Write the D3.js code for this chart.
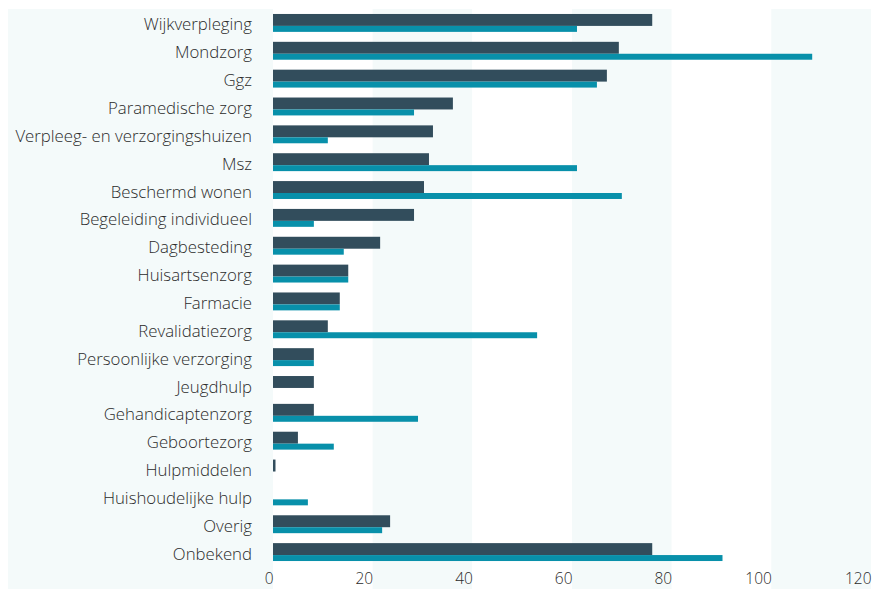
<!DOCTYPE html>
<html>
<head>
<meta charset="utf-8">
<script src="https://cdn.jsdelivr.net/npm/d3@7"></script>
<style>
  html, body { margin: 0; padding: 0; background: #ffffff; }
  svg { display: block; }
  text { font-family: "Open Sans", "Noto Sans", sans-serif; }
</style>
</head>
<body>
<svg id="chart" width="872" height="589"></svg>
<script>
const categories = [
  "Wijkverpleging", "Mondzorg", "Ggz", "Paramedische zorg",
  "Verpleeg- en verzorgingshuizen", "Msz", "Beschermd wonen",
  "Begeleiding individueel", "Dagbesteding", "Huisartsenzorg", "Farmacie",
  "Revalidatiezorg", "Persoonlijke verzorging", "Jeugdhulp",
  "Gehandicaptenzorg", "Geboortezorg", "Hulpmiddelen",
  "Huishoudelijke hulp", "Overig", "Onbekend"
];
const seriesA = [76.1, 69.4, 67.0, 36.1, 32.1, 31.3, 30.3, 28.3, 21.5, 15.1, 13.4, 11.0, 8.2, 8.2, 8.2, 5.0, 0.5, 0, 23.5, 76.1];
const seriesB = [61.0, 108.2, 65.0, 28.3, 11.0, 61.0, 70.0, 8.2, 14.2, 15.1, 13.4, 53.0, 8.2, 0, 29.1, 12.2, 0, 7.0, 21.9, 90.2];
const xTicks = [0, 20, 40, 60, 80, 100, 120];

(function () {
const svg = d3.select("#chart");
const mLeft = 273, mRight = 871, mTop = 9, mBottom = 566, bgLeft = 8, H = 589;
const colorA = "#324d5c", colorB = "#0890aa", bgLight = "#f4fafa";

const x = d3.scaleLinear().domain([0, 120]).range([mLeft, mRight]);
const y = d3.scaleBand().domain(categories).range([mTop, mBottom])
  .paddingInner(10 / 28).paddingOuter(5 / 28);

// background
svg.append("rect").attr("x", bgLeft).attr("y", mTop).attr("width", mLeft - bgLeft)
  .attr("height", H - mTop).attr("fill", bgLight);
const bands = d3.range(0, xTicks.length - 1);
svg.append("g").selectAll("rect").data(bands).join("rect")
  .attr("x", i => x(xTicks[i]))
  .attr("y", mTop)
  .attr("width", i => x(xTicks[i + 1]) - x(xTicks[i]))
  .attr("height", H - mTop)
  .attr("fill", i => i % 2 === 0 ? "#ffffff" : bgLight);

const bw = y.bandwidth();
// series A bars (dark)
svg.append("g").selectAll("rect").data(categories).join("rect")
  .attr("x", x(0))
  .attr("y", c => y(c))
  .attr("width", (c, i) => x(seriesA[i]) - x(0))
  .attr("height", bw * 2 / 3)
  .attr("fill", colorA);
// series B bars (teal)
svg.append("g").selectAll("rect").data(categories).join("rect")
  .attr("x", x(0))
  .attr("y", c => y(c) + bw * 2 / 3)
  .attr("width", (c, i) => x(seriesB[i]) - x(0))
  .attr("height", bw / 3)
  .attr("fill", colorB);

// y axis labels
const yAxis = d3.axisLeft(y).tickSize(0).tickPadding(21);
const gy = svg.append("g").attr("transform", `translate(${mLeft},0)`).call(yAxis);
gy.select(".domain").remove();
gy.selectAll("text").attr("font-size", 16.8).attr("font-weight", 300).attr("fill", "#2b2b2b")
  .attr("dy", "0.45em").attr("font-family", "'Open Sans', 'Noto Sans', sans-serif");

// x axis labels
const xAxis = d3.axisBottom(x).tickValues(xTicks).tickSize(0).tickPadding(0);
const gx = svg.append("g").attr("transform", `translate(0,${mBottom + 5})`).call(xAxis);
gx.select(".domain").remove();
gx.selectAll("text").attr("font-size", 15.5).attr("font-weight", 300).attr("fill", "#2b2b2b")
  .attr("text-anchor", "end").attr("dy", "0.85em")
  .attr("font-family", "'Open Sans', 'Noto Sans', sans-serif");
})();
</script>
</body>
</html>
